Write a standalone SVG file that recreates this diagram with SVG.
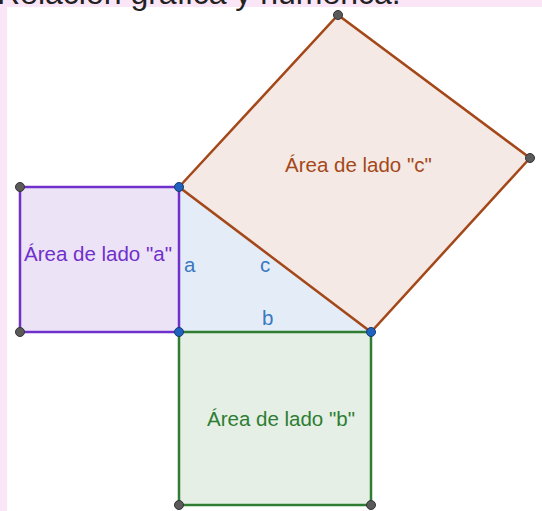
<svg xmlns="http://www.w3.org/2000/svg" width="542" height="511" viewBox="0 0 542 511">
<style>
.lbl{font-family:"Liberation Sans",Arial,sans-serif;font-size:20.5px}
.pt-g{fill:#5a5a5a;stroke:#333;stroke-width:1}
.pt-b{fill:#1f62c0;stroke:#173a70;stroke-width:1}
</style>
<rect x="0" y="0" width="542" height="511" fill="#fbe6f8"/>
<rect x="7" y="7" width="535" height="504" fill="#ffffff"/>
<text x="-3" y="4" font-family="'Liberation Sans',Arial,sans-serif" font-size="32" fill="#222">Relación gráfica y numérica.</text>
<g id="triangle">
<polygon points="179,187 179,332 371,332" fill="#e4edf7"/>
<text class="lbl" x="184" y="272" fill="#3b78c2">a</text>
<text class="lbl" x="260" y="272" fill="#3b78c2">c</text>
<text class="lbl" x="262" y="325" fill="#3b78c2">b</text>
</g>
<g id="square-a">
<rect x="20" y="187" width="159" height="145" fill="#ede3f6" stroke="#7030cc" stroke-width="2.5"/>
<text class="lbl" x="24" y="261" fill="#7030cc">Área de lado "a"</text>
</g>
<g id="square-c">
<polygon points="179,187 338,15 530,158 371,332" fill="#f4e9e4" stroke="#a4481a" stroke-width="2.5"/>
<text class="lbl" x="285" y="172" fill="#a4481a">Área de lado "c"</text>
</g>
<g id="square-b">
<rect x="179" y="332" width="192" height="173" fill="#e5efe5" stroke="#2e7d32" stroke-width="2.5"/>
<text class="lbl" x="207" y="426" fill="#2e7d32">Área de lado "b"</text>
</g>
<g id="points">
<circle class="pt-g" cx="20" cy="187" r="4.5"/>
<circle class="pt-g" cx="20" cy="332" r="4.5"/>
<circle class="pt-g" cx="338" cy="15" r="4.5"/>
<circle class="pt-g" cx="530" cy="158" r="4.5"/>
<circle class="pt-g" cx="179" cy="505" r="4.5"/>
<circle class="pt-g" cx="371" cy="505" r="4.5"/>
<circle class="pt-b" cx="179" cy="187" r="4.5"/>
<circle class="pt-b" cx="179" cy="332" r="4.5"/>
<circle class="pt-b" cx="371" cy="332" r="4.5"/>
</g>
</svg>
